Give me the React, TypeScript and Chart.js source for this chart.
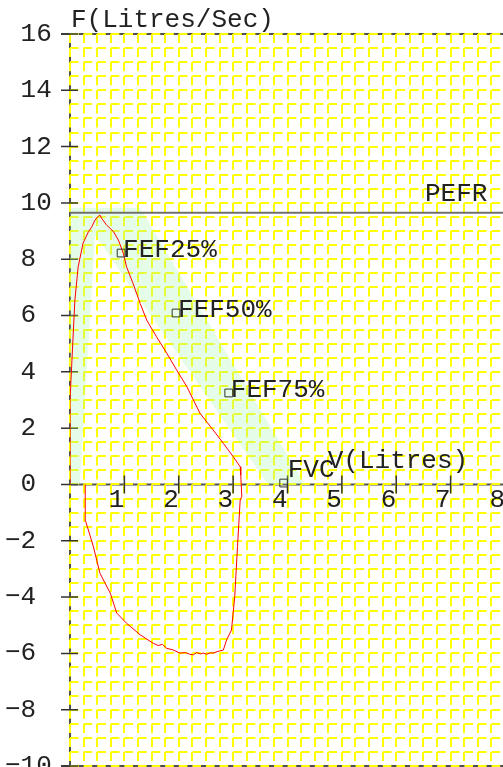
import React, { useEffect, useRef } from "react";
import { Chart, registerables } from "chart.js";

Chart.register(...registerables);

const MONO = "'Liberation Mono', 'Courier New', monospace";

// ---- axis ranges and labelled ticks ----
const volumeMin = 0;
const volumeMax = 8;
const flowMin = -10;
const flowMax = 16;
const volumeTicks = [1, 2, 3, 4, 5, 6, 7, 8];
const flowTicks = [-10, -8, -6, -4, -2, 0, 2, 4, 6, 8, 10, 12, 14, 16];

// ---- texts ----
const flowTitle = "F(Litres/Sec)";
const volumeTitle = "V(Litres)";
const pefrLabel = "PEFR";

// ---- measured flow-volume loop (expiration then inspiration) ----
const loopVolume = [
  0, 0, 0.03, 0.06, 0.09, 0.15, 0.24, 0.34, 0.4, 0.46, 0.52, 0.55, 0.58, 0.67, 0.8, 0.89, 0.98,
  1.04, 1.16, 1.29, 1.41, 1.59, 1.78, 1.96, 2.15, 2.27, 2.39, 2.63, 2.82, 3.0, 3.13, 3.14, 3.16,
  3.13, 3.08, 3.03, 2.97, 2.88, 2.82, 2.72, 2.63, 2.58, 2.52, 2.45, 2.4, 2.33, 2.27, 2.2, 2.12,
  2.02, 1.9, 1.78, 1.7, 1.62, 1.53, 1.29, 1.04, 0.86, 0.74, 0.55, 0.43, 0.29, 0.28,
];
const loopFlow = [
  0, 3.0, 4.18, 5.38, 6.55, 7.73, 8.57, 8.98, 9.15, 9.39, 9.53, 9.57, 9.46, 9.22, 8.98, 8.68, 8.21,
  7.73, 7.14, 6.43, 5.84, 5.25, 4.66, 4.07, 3.47, 3.0, 2.53, 1.94, 1.46, 0.99, 0.63, 0.34, -0.43,
  -0.55, -2.21, -3.98, -5.17, -5.52, -5.88, -5.93, -5.99, -5.98, -6.03, -5.99, -6.02, -5.97, -6.05,
  -6.03, -5.97, -5.99, -5.88, -5.82, -5.68, -5.72, -5.64, -5.34, -4.93, -4.57, -3.86, -3.15, -2.21,
  -1.32, 0,
];

// ---- predicted (normal) band ----
const bandVolume = [-0.07, -0.07, 1.29, 4.32, 3.64, 0.46, 0.18];
const bandFlow = [0, 9.82, 9.82, 0, 0, 8.86, 0];

// ---- PEFR and markers ----
const pefrValue = 9.65;
const markerNames = ["FEF25%", "FEF50%", "FEF75%", "FVC"];
const markerVolume = [0.94, 1.95, 2.92, 3.93];
const markerFlow = [8.22, 6.09, 3.25, 0.05];

// styling offsets (pixels) for marker labels
const MARKER_LABEL_OFFSETS = [
  [2, 4],
  [2, 4],
  [2, 4],
  [4, -6],
];

const toXY = (xs: number[], ys: number[]) => xs.map((x, i) => ({ x, y: ys[i] }));

export default function App() {
  const ref = useRef<HTMLCanvasElement>(null);

  useEffect(() => {
    const canvas = ref.current;
    if (!canvas) return;

    const decor = {
      id: "spiroDecor",
      beforeDraw(chart: any) {
        const { ctx, chartArea: a, scales } = chart;
        const x = scales.x;
        const y = scales.y;
        const x0 = x.getPixelForValue(0);
        const y0 = y.getPixelForValue(0);
        ctx.save();
        ctx.strokeStyle = "#505050";
        ctx.lineWidth = 2;
        ctx.beginPath();
        ctx.moveTo(x0, a.top);
        ctx.lineTo(x0, a.bottom);
        ctx.moveTo(a.left, y0);
        ctx.lineTo(a.right, y0);
        ctx.moveTo(a.left - 9, a.top);
        ctx.lineTo(a.right, a.top);
        ctx.moveTo(a.left - 9, a.bottom);
        ctx.lineTo(a.right, a.bottom);
        ctx.stroke();
        ctx.restore();
      },
      beforeDatasetsDraw(chart: any) {
        const { ctx, chartArea: a, scales } = chart;
        const x = scales.x;
        const y = scales.y;
        const y0 = y.getPixelForValue(0);
        ctx.save();
        ctx.strokeStyle = "#333";
        ctx.lineWidth = 1.5;
        ctx.beginPath();
        flowTicks.forEach((v) => {
          const py = y.getPixelForValue(v);
          ctx.moveTo(a.left - 9, py);
          ctx.lineTo(a.left + 8, py);
        });
        volumeTicks.forEach((v) => {
          const px = x.getPixelForValue(v);
          ctx.moveTo(px, y0 - 9);
          ctx.lineTo(px, y0 + 9);
        });
        ctx.stroke();
        ctx.restore();
      },
      afterDraw(chart: any) {
        const { ctx, chartArea: a, scales } = chart;
        const x = scales.x;
        const y = scales.y;
        const y0 = y.getPixelForValue(0);
        ctx.save();
        ctx.fillStyle = "#222";
        ctx.textBaseline = "alphabetic";
        ctx.textAlign = "left";
        ctx.font = `26px ${MONO}`;
        ctx.fillText(flowTitle, a.left + 1, a.top - 7);
        ctx.fillText(pefrLabel, a.right - 80, y.getPixelForValue(pefrValue) - 12);
        ctx.fillText(volumeTitle, x.getPixelForValue(4.74), y0 - 16);
        markerNames.forEach((name, i) => {
          const px = x.getPixelForValue(markerVolume[i]);
          const py = y.getPixelForValue(markerFlow[i]);
          const [dx, dy] = MARKER_LABEL_OFFSETS[i];
          ctx.fillText(name, px + dx, py + dy);
        });
        ctx.restore();
      },
    };

    const chart = new Chart(canvas, {
      type: "line",
      data: {
        datasets: [
          {
            data: toXY(bandVolume, bandFlow),
            borderWidth: 0,
            borderColor: "rgba(0,0,0,0)",
            backgroundColor: "rgba(170,245,180,0.3)",
            fill: "shape",
            pointRadius: 0,
            tension: 0,
            clip: false,
            order: 4,
          } as any,
          {
            data: [
              { x: volumeMin, y: pefrValue },
              { x: volumeMax, y: pefrValue },
            ],
            borderColor: "#707070",
            borderWidth: 2,
            pointRadius: 0,
            fill: false,
            order: 3,
          },
          {
            data: toXY(loopVolume, loopFlow),
            borderColor: "#ff0000",
            borderWidth: 1,
            pointRadius: 0,
            fill: false,
            tension: 0,
            order: 2,
          },
          {
            data: toXY(markerVolume, markerFlow),
            showLine: false,
            pointStyle: "rect",
            pointRadius: 5.5,
            pointBorderColor: "#333",
            pointBorderWidth: 1,
            pointBackgroundColor: "rgba(255,255,255,0)",
            order: 1,
          } as any,
        ],
      },
      options: {
        animation: false,
        responsive: false,
        devicePixelRatio: 1,
        layout: { padding: { left: 5, top: 34, right: 15, bottom: 14 } },
        plugins: {
          legend: { display: false },
          tooltip: { enabled: false },
          title: { display: false },
        },
        scales: {
          x: {
            type: "linear",
            min: volumeMin,
            max: volumeMax,
            position: { y: 0 } as any,
            ticks: {
              stepSize: 0.25,
              autoSkip: false,
              maxRotation: 0,
              minRotation: 0,
              align: "end",
              padding: 3,
              color: "#222",
              font: { family: MONO, size: 26, lineHeight: 1 },
              callback: (v: any) => (volumeTicks.includes(Number(v)) ? String(v) : ""),
            },
            grid: { color: "#ffff00", lineWidth: 2, drawTicks: false },
            border: { display: false, dash: [9, 5.08] },
          },
          y: {
            type: "linear",
            min: flowMin,
            max: flowMax,
            position: "left",
            afterFit: (s: any) => {
              s.width = 65;
            },
            ticks: {
              stepSize: 0.5,
              autoSkip: false,
              crossAlign: "far",
              padding: 0,
              color: "#222",
              font: { family: MONO, size: 26, lineHeight: 1 },
              callback: (v: any) => {
                const n = Number(v);
                if (!flowTicks.includes(n)) return "";
                return n < 0 ? "\u2212" + Math.abs(n) : " " + n;
              },
            },
            grid: { color: "#ffff00", lineWidth: 2, drawTicks: false },
            border: { display: false, dash: [8.6, 5] },
          },
        } as any,
      },
      plugins: [decor],
    });

    return () => chart.destroy();
  }, []);

  return (
    <div
      style={{
        position: "fixed",
        left: 0,
        top: 0,
        width: 503,
        height: 767,
        overflow: "hidden",
        background: "#fff",
      }}
    >
      <canvas ref={ref} width={520} height={780} style={{ display: "block" }} />
    </div>
  );
}
